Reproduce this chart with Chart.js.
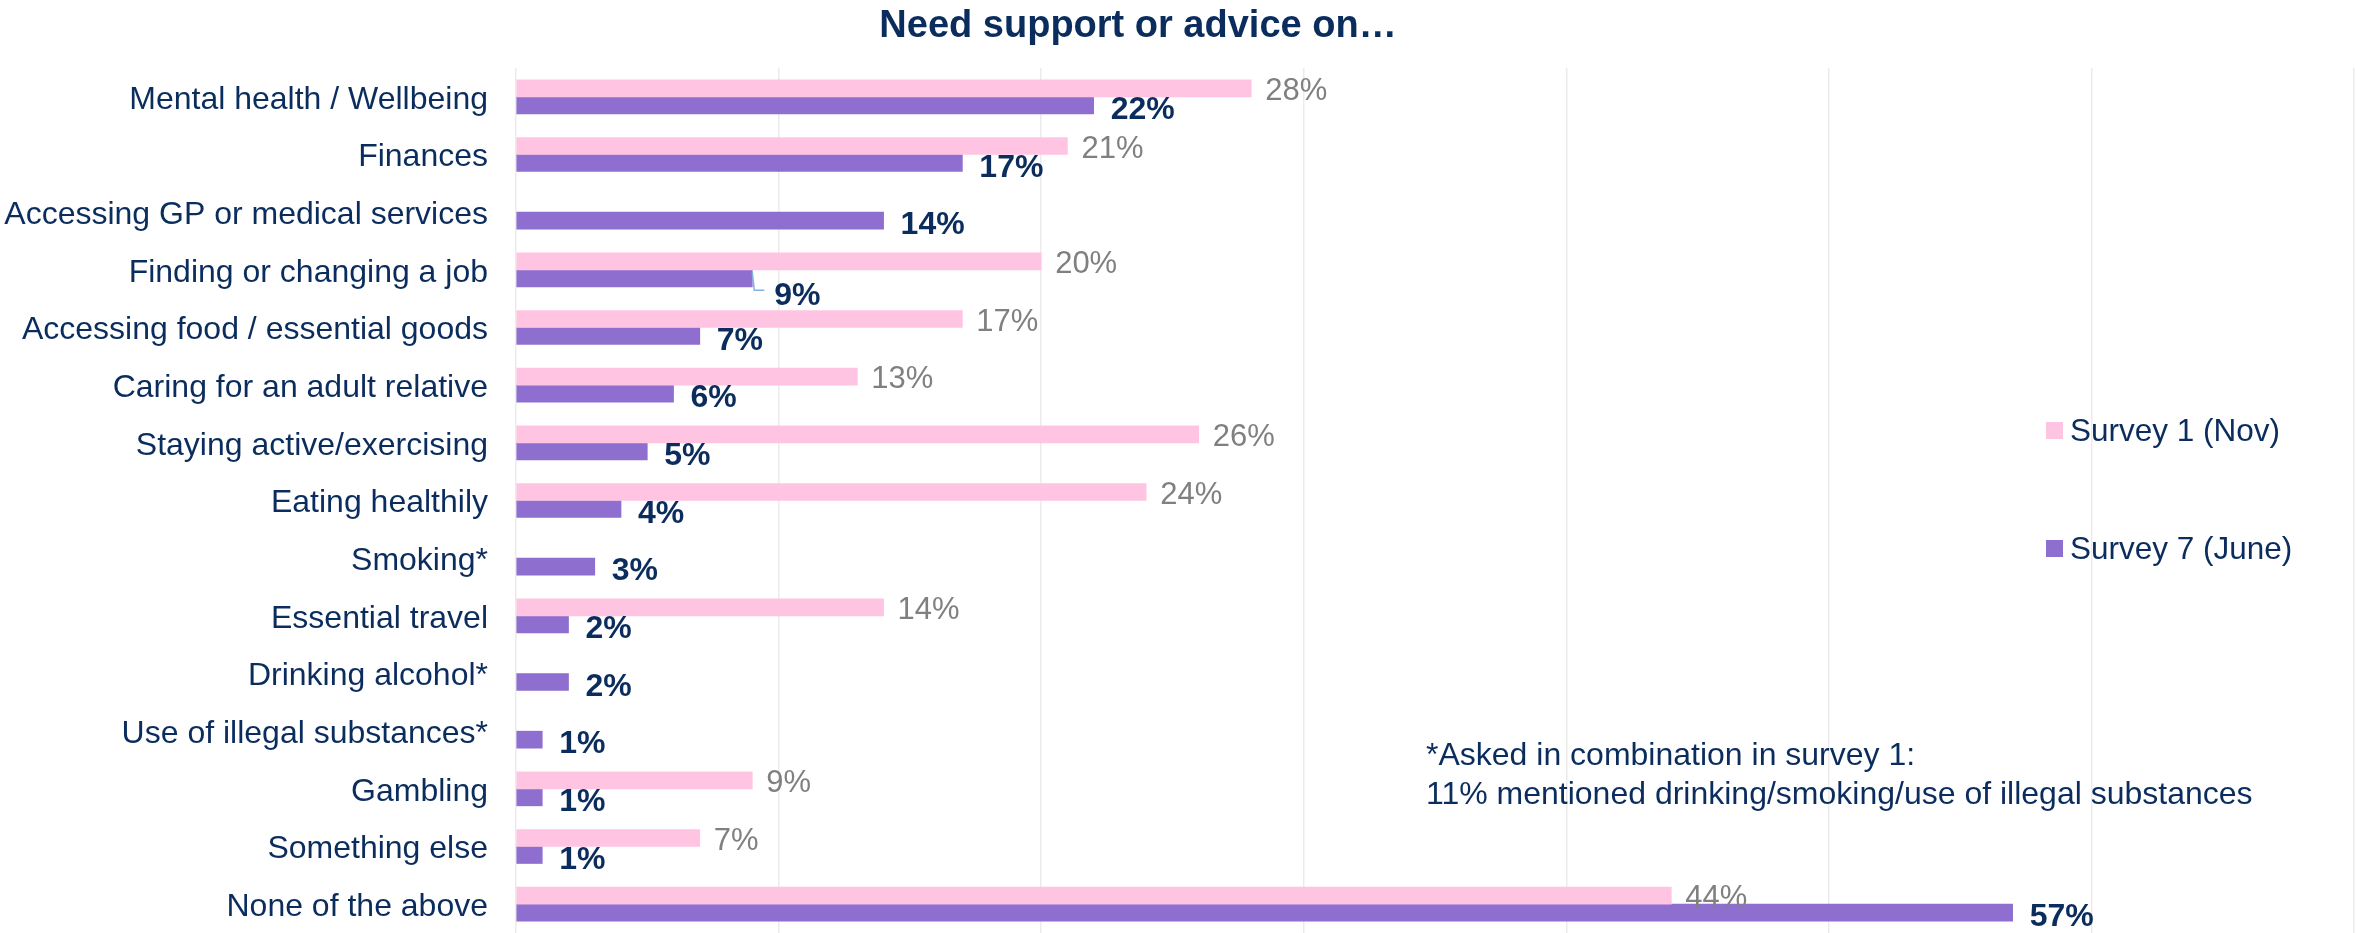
<!DOCTYPE html>
<html><head><meta charset="utf-8">
<script src="https://cdn.jsdelivr.net/npm/chart.js@4.4.1/dist/chart.umd.min.js"></script>
<style>html,body{margin:0;padding:0;background:#fff;overflow:hidden}#wrap{width:2356px;height:933px;position:relative}</style>
</head><body><div id="wrap"><canvas id="c" width="2356" height="933"></canvas></div>
<script>
const categories = ['Mental health / Wellbeing','Finances','Accessing GP or medical services','Finding or changing a job','Accessing food / essential goods','Caring for an adult relative','Staying active/exercising','Eating healthily','Smoking*','Essential travel','Drinking alcohol*','Use of illegal substances*','Gambling','Something else','None of the above'];
const survey1 = [28,21,null,20,17,13,26,24,null,14,null,null,9,7,44];
const survey7 = [22,17,14,9,7,6,5,4,3,2,2,1,1,1,57];
const seriesNames = ['Survey 1 (Nov)','Survey 7 (June)'];
const axisMax = 70;
const axisStep = 10;
const titleText = 'Need support or advice on…';
const footnoteLines = ['*Asked in combination in survey 1:','11% mentioned drinking/smoking/use of illegal substances'];

const NAVY = '#0B2D5E';
const GRAY = '#808080';
const PINK = '#FFC4E2';
const PURPLE = '#8E6ECF';
const FONT = '"Liberation Sans", Arial, sans-serif';

const extras = {
  id: 'extras',
  afterDatasetsDraw(chart) {
    const ctx = chart.ctx;
    ctx.save();
    chart.data.datasets.forEach((ds, di) => {
      const meta = chart.getDatasetMeta(di);
      meta.data.forEach((bar, i) => {
        const v = ds.data[i];
        if (v === null || v === undefined) return;
        ctx.textAlign = 'left';
        ctx.textBaseline = 'middle';
        if (di === 0) {
          ctx.font = '31px ' + FONT;
          ctx.fillStyle = GRAY;
          ctx.fillText(v + '%', bar.x + 14, bar.y + 3);
        } else {
          ctx.font = 'bold 32px ' + FONT;
          ctx.fillStyle = NAVY;
          if (categories[i] === 'Finding or changing a job') {
            ctx.strokeStyle = '#7FB2E5';
            ctx.lineWidth = 1.5;
            ctx.beginPath();
            ctx.moveTo(bar.x, bar.y - 6);
            ctx.lineTo(bar.x + 2, bar.y + 12);
            ctx.lineTo(bar.x + 12, bar.y + 12);
            ctx.stroke();
            ctx.fillText(v + '%', bar.x + 22, bar.y + 18);
          } else {
            ctx.fillText(v + '%', bar.x + 17, bar.y + 5);
          }
        }
      });
    });
    ctx.restore();
  },
  afterDraw(chart) {
    const ctx = chart.ctx;
    ctx.save();
    ctx.font = 'bold 38px ' + FONT;
    ctx.fillStyle = NAVY;
    ctx.textAlign = 'center';
    ctx.textBaseline = 'middle';
    ctx.fillText(titleText, 1138, 27);
    const colors = [PINK, PURPLE];
    const ys = [430, 548];
    ctx.font = '31.5px ' + FONT;
    ctx.textAlign = 'left';
    seriesNames.forEach((n, k) => {
      ctx.fillStyle = colors[k];
      ctx.fillRect(2046, ys[k] - 8, 17, 17);
      ctx.fillStyle = NAVY;
      ctx.fillText(n, 2070, ys[k] + 2);
    });
    ctx.font = '32px ' + FONT;
    ctx.fillStyle = NAVY;
    footnoteLines.forEach((l, k) => ctx.fillText(l, 1426, 756 + k * 39));
    ctx.restore();
  }
};

new Chart(document.getElementById('c'), {
  type: 'bar',
  data: {
    labels: categories,
    datasets: [
      { label: seriesNames[0], data: survey1, backgroundColor: PINK, barThickness: 17 },
      { label: seriesNames[1], data: survey7, backgroundColor: PURPLE, barThickness: 17 }
    ]
  },
  options: {
    indexAxis: 'y',
    responsive: false,
    devicePixelRatio: 1,
    animation: false,
    layout: { padding: { top: 68, left: 0, right: 2, bottom: 0 } },
    plugins: { legend: { display: false }, title: { display: false }, tooltip: { enabled: false } },
    scales: {
      x: {
        min: 0, max: axisMax,
        ticks: { display: false, stepSize: axisStep },
        grid: { color: '#EBEBEB', lineWidth: 1.5, drawTicks: false },
        border: { display: false },
        afterFit(s) { s.height = 0; s.paddingLeft = 0; s.paddingRight = 0; }
      },
      y: {
        ticks: { color: NAVY, font: { family: FONT, size: 32 }, padding: 28, autoSkip: false, labelOffset: 3 },
        grid: { display: false, drawTicks: false },
        border: { display: false },
        afterFit(s) { s.width = 516; s.paddingTop = 0; s.paddingBottom = 0; }
      }
    }
  },
  plugins: [extras]
});
</script></body></html>
